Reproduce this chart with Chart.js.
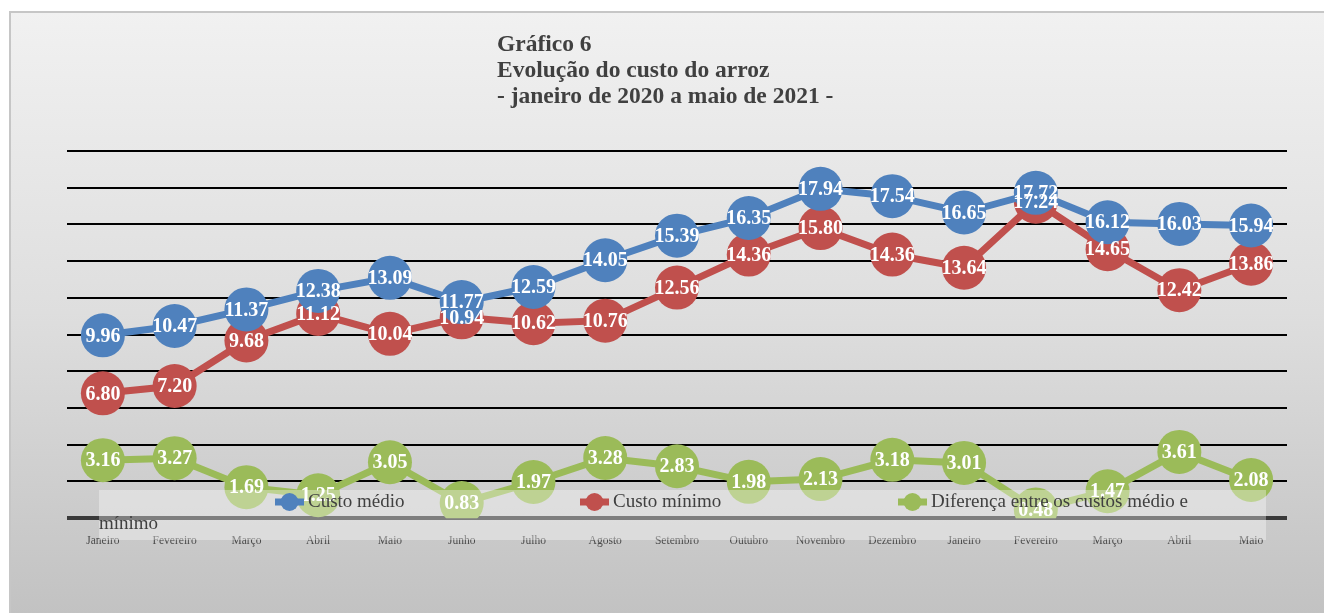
<!DOCTYPE html>
<html>
<head>
<meta charset="utf-8">
<script src="https://cdn.jsdelivr.net/npm/chart.js@4/dist/chart.umd.min.js"></script>
<style>
  html, body { margin: 0; padding: 0; background: #fff; }
  #wrap { position: relative; width: 1324px; height: 613px; }
</style>
</head>
<body>
<div id="wrap"><canvas id="arroz" width="1324" height="613"></canvas></div>
<script>
// months jan/2020 - mai/2021
const months = ["Janeiro", "Fevereiro", "Março", "Abril", "Maio", "Junho", "Julho", "Agosto",
  "Setembro", "Outubro", "Novembro", "Dezembro", "Janeiro", "Fevereiro", "Março", "Abril", "Maio"];
const custoMedio = [9.96, 10.47, 11.37, 12.38, 13.09, 11.77, 12.59, 14.05, 15.39, 16.35, 17.94, 17.54, 16.65, 17.72, 16.12, 16.03, 15.94];
const custoMinimo = [6.80, 7.20, 9.68, 11.12, 10.04, 10.94, 10.62, 10.76, 12.56, 14.36, 15.80, 14.36, 13.64, 17.24, 14.65, 12.42, 13.86];
const diferenca = [3.16, 3.27, 1.69, 1.25, 3.05, 0.83, 1.97, 3.28, 2.83, 1.98, 2.13, 3.18, 3.01, 0.48, 1.47, 3.61, 2.08];
const seriesNames = ["Custo médio", "Custo mínimo", "Diferença entre os custos médio e mínimo"];
const titleLines = ["Gráfico 6", "Evolução do custo do arroz", "- janeiro de 2020 a maio de 2021 -"];

const BLUE = "#4f81bd", RED = "#c0504d", GREEN = "#9bbb59";
const SERIF = "'Liberation Serif', 'DejaVu Serif', serif";

function serie(label, data, color) {
  return {
    label: label,
    data: data,
    borderColor: color,
    backgroundColor: color,
    borderWidth: 7,
    pointRadius: 22,
    pointHoverRadius: 22,
    pointBorderWidth: 0,
    pointBackgroundColor: color,
    tension: 0,
  };
}

// frame + gradient background
const backdrop = {
  id: "backdrop",
  beforeDraw(chart) {
    const c = chart.ctx;
    c.save();
    c.fillStyle = "#ffffff";
    c.fillRect(0, 0, chart.width, chart.height);
    const g = c.createLinearGradient(0, 12, 0, chart.height);
    g.addColorStop(0, "#f1f1f1");
    g.addColorStop(0.5, "#dedede");
    g.addColorStop(1, "#c2c2c2");
    c.fillStyle = g;
    c.fillRect(9, 12, chart.width - 9, chart.height - 12);
    c.strokeStyle = "#c6c6c6";
    c.lineWidth = 2;
    c.strokeRect(10, 12, chart.width, chart.height + 4);
    // title
    c.fillStyle = "#404040";
    c.font = "bold 23.5px " + SERIF;
    c.textBaseline = "alphabetic";
    c.textAlign = "left";
    titleLines.forEach((t, i) => c.fillText(t, 497, 51 + i * 26));
    c.restore();
  },
};

// white value labels on the points
const valueLabels = {
  id: "valueLabels",
  afterDatasetsDraw(chart) {
    const c = chart.ctx;
    c.save();
    c.fillStyle = "#ffffff";
    c.font = "bold 20px " + SERIF;
    c.textAlign = "center";
    c.textBaseline = "middle";
    chart.data.datasets.forEach((ds, i) => {
      chart.getDatasetMeta(i).data.forEach((pt, j) => {
        c.fillText(ds.data[j].toFixed(2), pt.x, pt.y + 1);
      });
    });
    c.restore();
  },
};

// legend sitting over the bottom of the plot, like the original
const overlayLegend = {
  id: "overlayLegend",
  afterDraw(chart) {
    const c = chart.ctx;
    c.save();
    c.fillStyle = "rgba(255,255,255,0.35)";
    c.fillRect(99, 490, 1167, 50);
    const items = [
      { x: 275, color: BLUE, text: seriesNames[0] },
      { x: 580, color: RED, text: seriesNames[1] },
      { x: 898, color: GREEN, text: "Diferença entre os custos médio e" },
    ];
    c.font = "19px " + SERIF;
    c.textBaseline = "middle";
    c.textAlign = "left";
    items.forEach((it) => {
      c.strokeStyle = it.color;
      c.lineWidth = 7;
      c.beginPath();
      c.moveTo(it.x, 502);
      c.lineTo(it.x + 29, 502);
      c.stroke();
      c.fillStyle = it.color;
      c.beginPath();
      c.arc(it.x + 14.5, 502, 9, 0, Math.PI * 2);
      c.fill();
      c.fillStyle = "#404040";
      c.fillText(it.text, it.x + 33, 502);
    });
    c.fillText("mínimo", 99, 524);
    c.restore();
  },
};

new Chart(document.getElementById("arroz").getContext("2d"), {
  type: "line",
  data: {
    labels: months,
    datasets: [
      serie(seriesNames[0], custoMedio, BLUE),
      serie(seriesNames[1], custoMinimo, RED),
      serie(seriesNames[2], diferenca, GREEN),
    ],
  },
  options: {
    responsive: false,
    animation: false,
    layout: { padding: { left: 67, right: 37, top: 151, bottom: 49 } },
    plugins: {
      legend: { display: false },
      title: { display: false },
      tooltip: { enabled: false },
    },
    scales: {
      x: {
        offset: true,
        grid: { display: false, drawTicks: false },
        border: { display: false },
        ticks: {
          color: "#4a4a4a",
          font: { family: SERIF, size: 11.5 },
          padding: 16,
          maxRotation: 0,
          autoSkip: false,
        },
      },
      y: {
        min: 0,
        max: 20,
        ticks: { display: false, stepSize: 2 },
        border: { display: false },
        grid: {
          drawTicks: false,
          color: (ctx) => (ctx.tick && ctx.tick.value === 0 ? "#3a3a3a" : "#000000"),
          lineWidth: (ctx) => (ctx.tick && ctx.tick.value === 0 ? 4 : 2),
        },
      },
    },
  },
  plugins: [backdrop, valueLabels, overlayLegend],
});
</script>
</body>
</html>
